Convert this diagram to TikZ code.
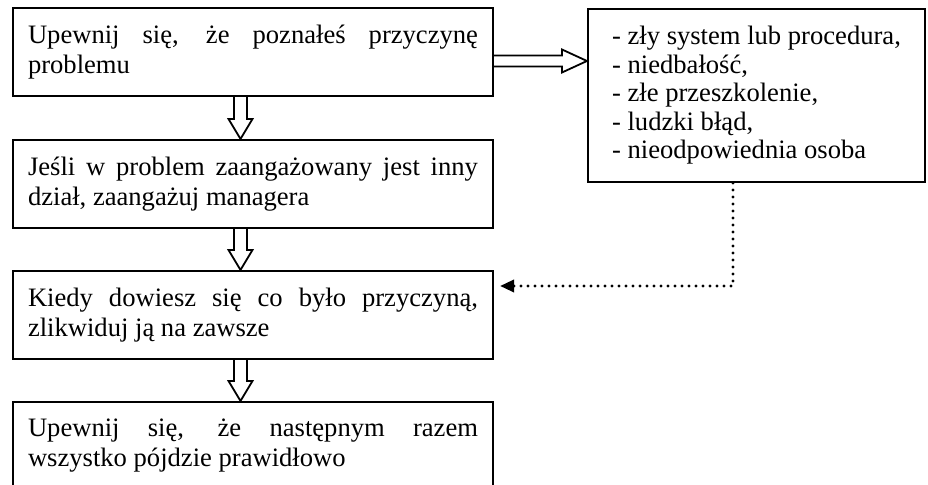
\documentclass[tikz,border=0pt]{standalone}
\usepackage{fontspec}
\setmainfont{Liberation Serif}
\usetikzlibrary{calc,arrows.meta}

% no hyphenation, justified lines may stretch freely
\hyphenpenalty=10000
\exhyphenpenalty=10000
\tolerance=10000
\hbadness=10000

\tikzset{
  stepbox/.style={draw, line width=1pt, anchor=north west, text width=225pt,
    inner xsep=7.5pt, minimum height=44pt, align=justify,
    font=\fontsize{13.3pt}{15pt}\selectfont},
  listbox/.style={draw, line width=1pt, anchor=north west, inner xsep=0pt,
    minimum width=168.5pt, minimum height=86.5pt, align=left,
    font=\fontsize{13.3pt}{14.25pt}\selectfont},
  hollow/.style={line width=0.9pt, line join=miter},
}

\begin{document}
\begin{tikzpicture}[x=0.5pt,y=-0.5pt]
    \useasboundingbox (0,0) rectangle (928,485);
    % steps
    \node[stepbox] (b1) at (12,7) {Upewnij się, że poznałeś przyczynę problemu};
    \node[stepbox] (b2) at (12,139) {Jeśli w problem zaangażowany jest inny dział, zaangażuj managera};
    \node[stepbox] (b3) at (12,270) {Kiedy dowiesz się co było przyczyną, zlikwiduj ją na zawsze};
    \node[stepbox] (b4) at (12,401) {Upewnij się, że następnym razem wszystko pójdzie prawidłowo};
    % possible causes
    \node[listbox] (causes) at (587,8) {- zły system lub procedura,\\
      - niedbałość,\\
      - złe przeszkolenie,\\
      - ludzki błąd,\\
      - nieodpowiednia osoba};
    % hollow arrows between steps
    \foreach \a/\b in {b1/b2, b2/b3, b3/b4} {
      \coordinate (s) at ($(\a.south)+(-12.5,0)$);
      \coordinate (t) at (s |- \b.north);
      \draw[hollow] ($(s)+(-6.5,0)$) -- ($(t)+(-6.5,-20)$) -- ($(t)+(-12,-20)$) -- (t)
        -- ($(t)+(12,-20)$) -- ($(t)+(6.5,-20)$) -- ($(s)+(6.5,0)$);
    }
    % hollow arrow to the causes
    \coordinate (r0) at ($(b1.east)+(0,9)$);
    \coordinate (r1) at (r0 -| causes.west);
    \draw[hollow] ($(r0)+(0,-5.5)$) -- ($(r1)+(-25,-5.5)$) -- ($(r1)+(-25,-11.5)$) -- (r1)
      -- ($(r1)+(-25,11.5)$) -- ($(r1)+(-25,5.5)$) -- ($(r0)+(0,5.5)$);
    % dotted feedback
    \coordinate (dtop) at ($(causes.south)+(-23.5,0)$);
    \coordinate (dend) at ($(b3.north east)+(6,16)$);
    \draw[line width=1.6pt, dash pattern=on 0pt off 3.5pt, line cap=round,
      -{Triangle[length=7pt,width=6pt]}] (dtop) |- (dend);
\end{tikzpicture}
\end{document}
